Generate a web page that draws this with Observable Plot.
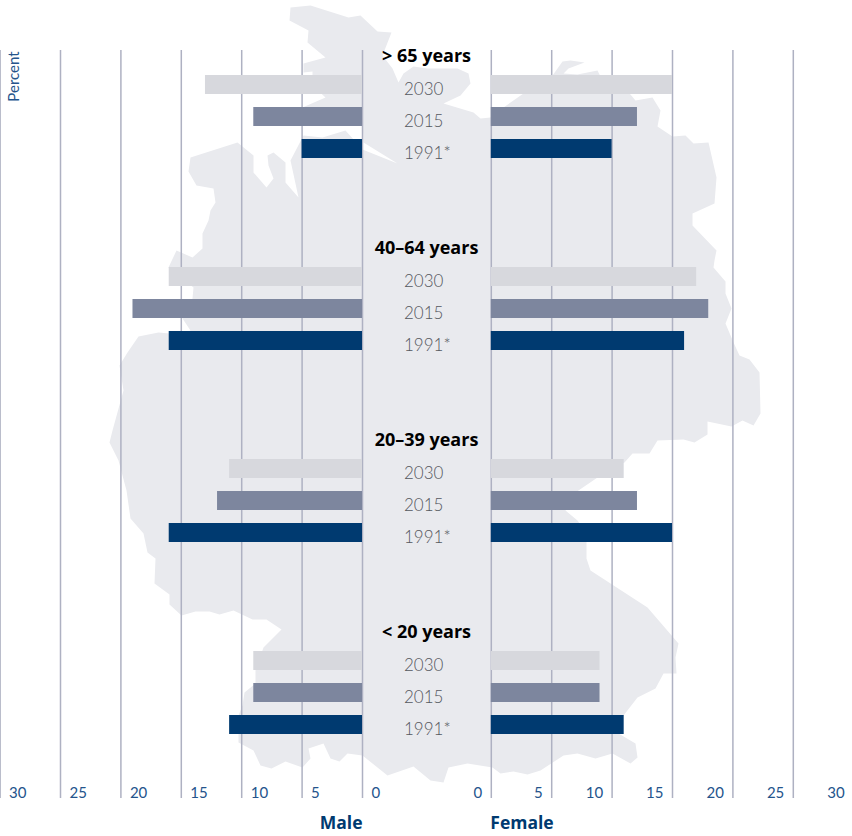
<!DOCTYPE html>
<html>
<head>
<meta charset="utf-8">
<script src="https://cdn.jsdelivr.net/npm/d3@7"></script>
<script src="https://cdn.jsdelivr.net/npm/@observablehq/plot@0.6"></script>
<style>html,body{margin:0;padding:0;background:#fff}svg{display:block}</style>
</head>
<body>
<div id="chart"></div>
<script>
const ageGroups = ["> 65 years", "40–64 years", "20–39 years", "< 20 years"];
const years = ["2030", "2015", "1991*"];
const male = [[13, 9, 5], [16, 19, 16], [11, 12, 16], [9, 9, 11]];
const female = [[15, 12.1, 10], [17, 18, 16], [11, 12.1, 15], [9, 9, 11]];
const ticks = [0, 5, 10, 15, 20, 25, 30];
const yearColors = ["#d7d8dd", "#7d869e", "#003a70"];
const germanyOutline = [[289,20],[290,7],[310,5],[348,17],[360,15],[377,31],[391,32],[382,55],[392,68],[398,82],[403,73],[413,66],[427,68],[457,68],[468,73],[470,83],[460,95],[443,103],[473,112],[480,118],[490,117],[503,107],[523,93],[540,82],[552,75],[562,61],[570,60],[584,62],[568,68],[563,73],[577,74],[597,70],[600,76],[630,94],[635,100],[652,97],[660,110],[657,126],[672,136],[685,135],[693,143],[708,142],[716,177],[714,203],[692,213],[692,225],[716,250],[714,260],[713,267],[725,281],[725,293],[731,308],[725,323],[733,342],[739,355],[749,359],[759,372],[760,413],[753,425],[742,420],[731,426],[707,421],[707,434],[694,442],[683,439],[657,440],[649,453],[632,453],[624,462],[600,475],[575,492],[565,510],[577,520],[586,533],[586,558],[590,570],[647,607],[678,643],[675,657],[676,673],[663,673],[655,688],[637,697],[623,715],[618,733],[635,743],[637,757],[630,763],[612,753],[595,758],[577,753],[563,755],[540,770],[527,774],[513,771],[500,773],[492,767],[467,763],[448,767],[443,782],[430,780],[413,766],[387,775],[362,755],[347,753],[339,761],[330,758],[323,743],[308,748],[310,758],[302,767],[285,761],[271,768],[260,765],[253,750],[238,742],[238,715],[242,705],[244,692],[255,683],[255,670],[263,647],[281,629],[266,619],[252,619],[233,610],[219,614],[209,611],[195,611],[181,615],[169,604],[169,594],[154,583],[155,558],[147,552],[143,533],[130,518],[126,490],[118,460],[109,442],[112,430],[123,390],[119,365],[127,352],[138,336],[158,332],[180,334],[190,330],[182,318],[192,298],[193,287],[168,267],[176,250],[192,257],[202,248],[202,233],[208,220],[210,210],[215,202],[213,188],[196,185],[188,171],[190,157],[237,142],[253,155],[253,172],[266,187],[273,178],[268,165],[267,155],[273,152],[285,162],[285,182],[298,197],[290,160],[303,135],[322,137],[345,130],[362,149],[397,163],[363,142],[362,120],[302,107],[325,97],[312,85],[312,71],[303,72],[303,63],[325,57],[307,42],[308,30]];

// Layout of the butterfly: one signed x scale with a central gap for the labels.
const W = 852, H = 836;
const k = 12.08, cx = 426.4, gap = 64.4 / k;
const pos = (sex, v) => sex === "Male" ? -(v + gap) : (v + gap);
const rowH = 32, firstRow = 84.5, barHalf = 9.5 / rowH;
const row = (g, y) => g * 6 + y;
const X = p => (p - cx) / k;           // outline trace → x units
const Y = p => (p - firstRow) / rowH;  // outline trace → row units

const bars = [];
ageGroups.forEach((ag, g) => years.forEach((yr, y) => {
  bars.push({sex: "Male", v: male[g][y], g, y, yr});
  bars.push({sex: "Female", v: female[g][y], g, y, yr});
}));
const tickData = ["Male", "Female"].flatMap(sex => ticks.map(t => ({sex, t})));
const font = "Lato, 'Open Sans', sans-serif";
const boldFont = "'Open Sans', Lato, sans-serif";

const chart = Plot.plot({
  width: W, height: H, margin: 0,
  style: {fontFamily: font, background: "#fff"},
  x: {domain: [X(0), X(W)], range: [0, W], axis: null},
  y: {domain: [Y(0), Y(H)], range: [0, H], axis: null},
  marks: [
    Plot.line(germanyOutline, {x: d => X(d[0]), y: d => Y(d[1]), fill: "#e9eaee", stroke: "none"}),
    Plot.ruleX(tickData, {x: d => pos(d.sex, d.t), y1: Y(50), y2: Y(798), stroke: "#aeb1c2", strokeWidth: 1.5}),
    Plot.rectX(bars, {
      x1: d => pos(d.sex, 0), x2: d => pos(d.sex, d.v),
      y1: d => row(d.g, d.y) - barHalf, y2: d => row(d.g, d.y) + barHalf,
      fill: d => yearColors[d.y], inset: 0
    }),
    Plot.text(bars.filter(d => d.sex === "Male"), {
      x: X(403.5), y: d => row(d.g, d.y), dy: 4.5, text: "yr", textAnchor: "start",
      fill: "#55585e", fontSize: 17, fontWeight: 300
    }),
    Plot.text(ageGroups, {
      x: X(426), y: (d, i) => row(i, -1), dy: 3.5, text: d => d,
      fill: "#000", fontSize: 18, fontWeight: 700, fontFamily: boldFont
    }),
    Plot.text(tickData.filter(d => d.sex === "Male"), {
      x: d => pos(d.sex, d.t), y: Y(793), dx: 9, text: d => String(d.t),
      textAnchor: "start", fill: "#24548c", fontSize: 15
    }),
    Plot.text(tickData.filter(d => d.sex === "Female"), {
      x: d => pos(d.sex, d.t), y: Y(793), dx: -9, text: d => String(d.t),
      textAnchor: "end", fill: "#24548c", fontSize: 15
    }),
    Plot.text(["Male"], {
      x: pos("Male", 0), y: Y(823), text: d => d, textAnchor: "end",
      fill: "#003a70", fontSize: 17.5, fontWeight: 700, fontFamily: boldFont
    }),
    Plot.text(["Female"], {
      x: pos("Female", 0), dx: -1, y: Y(823), text: d => d, textAnchor: "start",
      fill: "#003a70", fontSize: 17.5, fontWeight: 700, fontFamily: boldFont
    }),
    Plot.text(["Percent"], {
      x: X(14), y: Y(76), text: d => d, rotate: -90,
      fill: "#24548c", fontSize: 15
    })
  ]
});
document.getElementById("chart").append(chart);
</script>
</body>
</html>
